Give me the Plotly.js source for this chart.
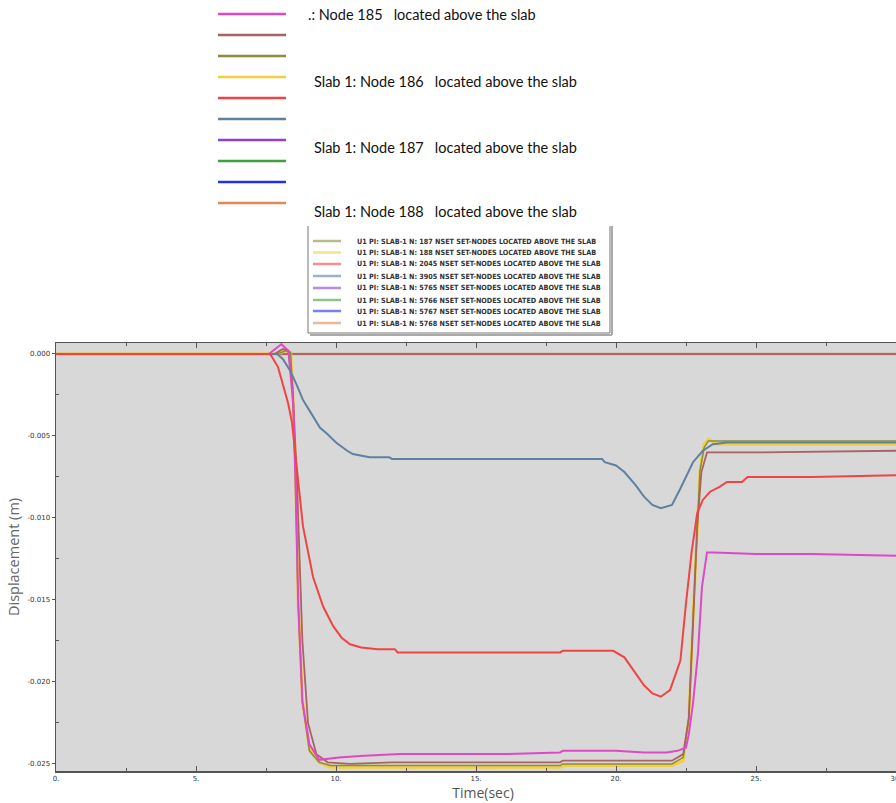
<!DOCTYPE html>
<html>
<head>
<meta charset="utf-8">
<script src="https://cdn.plot.ly/plotly-3.0.1.min.js"></script>
<style>
html,body{margin:0;padding:0;background:#fff;overflow:hidden;}
#chart{width:910px;height:803px;}
</style>
</head>
<body>
<div id="chart"></div>
<script>
// ---------- data ----------
const nodeIds = ['185','186','187','188','2045','3905','5765','5766','5767','5768'];
const seriesColors = ['#e048c8','#a86464','#8c8c3c','#f0d040','#f04444','#6080a0','#9040d0','#40a040','#2030f0','#e08858'];
const topLegendTexts = ['.: Node 185\u00a0\u00a0 located above the slab',
  'Slab 1: Node 186\u00a0\u00a0 located above the slab',
  'Slab 1: Node 187\u00a0\u00a0 located above the slab',
  'Slab 1: Node 188\u00a0\u00a0 located above the slab'];

const xTickVals = [0,5,10,15,20,25,30];
const xTickText = ['0.','5.','10.','15.','20.','25.','30.'];
const yTickVals = [0,-0.005,-0.010,-0.015,-0.020,-0.025];
const yTickText = ['0.000','-0.005','-0.010','-0.015','-0.020','-0.025'];

const t185 = [0,7.6,7.9,8.05,8.3,8.47,8.55,8.65,8.8,9.05,9.4,10.1,11,12.3,14,16,18,18.1,19,20,21,21.8,22.2,22.5,22.6,22.75,22.93,23.07,23.25,23.5,25,27,30];
const y185 = [0,0,0.0004,0.0006,0.0002,-0.003,-0.0075,-0.0152,-0.0212,-0.0238,-0.02475,-0.0246,-0.0245,-0.0244,-0.0244,-0.0244,-0.0243,-0.0242,-0.0242,-0.0242,-0.0243,-0.0243,-0.0242,-0.0240,-0.0232,-0.0213,-0.0182,-0.0142,-0.0121,-0.0121,-0.0122,-0.0122,-0.0123];

const t186 = [0,7.8,8.1,8.3,8.45,8.6,8.8,9.0,9.3,9.7,10.5,12,15,18,18.1,20,22,22.4,22.6,22.75,22.9,23.05,23.25,23.6,25,30];
const y186 = [0,0,0.0003,0.0002,-0.002,-0.0075,-0.0175,-0.0225,-0.0244,-0.0249,-0.025,-0.0249,-0.0249,-0.0249,-0.0248,-0.0248,-0.0248,-0.0244,-0.0222,-0.0165,-0.0105,-0.0072,-0.006,-0.006,-0.006,-0.0059];

const t187 = [0,7.9,8.2,8.38,8.47,8.55,8.65,8.8,9.05,9.4,9.8,12,18,18.1,22,22.4,22.6,22.75,22.9,23.0,23.15,23.3,23.6,25,30];
const y187 = [0,0,0.0002,0.0001,-0.003,-0.0075,-0.0152,-0.0212,-0.0242,-0.0249,-0.0251,-0.0251,-0.0251,-0.025,-0.025,-0.0246,-0.0222,-0.0162,-0.0101,-0.0071,-0.0057,-0.0053,-0.0053,-0.0053,-0.0053];

const t188 = [0,7.9,8.2,8.38,8.47,8.55,8.65,8.8,9.05,9.4,9.8,12,18,18.1,22,22.4,22.6,22.75,22.9,23.0,23.15,23.3,23.6,25,30];
const y188 = [0,0,0.0002,0.0001,-0.0028,-0.0069,-0.015,-0.0211,-0.0241,-0.0249,-0.0252,-0.0252,-0.0252,-0.0251,-0.0251,-0.0248,-0.0223,-0.0162,-0.0101,-0.0071,-0.0055,-0.0052,-0.0055,-0.0055,-0.0055];

const t2045 = [0,7.65,7.93,8.1,8.29,8.43,8.6,8.82,9.18,9.54,9.9,10.2,10.5,10.9,11.5,12.1,12.2,15,18,18.1,19.9,20.3,20.7,21.0,21.3,21.6,21.93,22.3,22.5,22.7,22.9,23.1,23.36,23.7,23.96,24.5,24.7,27,30];
const y2045 = [0,0,-0.0008,-0.0018,-0.003,-0.0042,-0.0069,-0.0105,-0.0136,-0.0154,-0.0166,-0.0173,-0.0177,-0.0179,-0.018,-0.018,-0.0182,-0.0182,-0.0182,-0.0181,-0.0181,-0.0185,-0.0195,-0.0202,-0.0207,-0.0209,-0.0205,-0.0187,-0.0152,-0.0121,-0.0097,-0.0089,-0.0084,-0.0081,-0.0078,-0.0078,-0.0075,-0.0075,-0.0074];

const t3905 = [0,7.9,8.1,8.36,8.6,8.82,9.07,9.43,9.7,10.0,10.4,10.6,11.2,11.9,12.0,15,18,19.5,19.6,20.0,20.3,20.7,21.0,21.3,21.6,22.0,22.3,22.75,23.1,23.46,23.96,27,30];
const y3905 = [0,0,-0.0003,-0.001,-0.0019,-0.0028,-0.0035,-0.0045,-0.0049,-0.0054,-0.0059,-0.0061,-0.0063,-0.0063,-0.0064,-0.0064,-0.0064,-0.0064,-0.0066,-0.0068,-0.0072,-0.0080,-0.0087,-0.0092,-0.0094,-0.0092,-0.0082,-0.0066,-0.0059,-0.0055,-0.0054,-0.0054,-0.0054];

const tZero = [0,30.5];
const y5765 = [0,0];
const y5766 = [0,0];
const y5767 = [0,0];
const y5768 = [0,0];

// ---------- geometry helpers (pixel -> paper) ----------
const W = 910;
const PL = 56, PR = 910, PT = 343, PB = 771;
const px = x => (x - PL) / (PR - PL);
const py = y => (PB - y) / (PB - PT);

function tr(x, y, idx, w, op) {
  return {x: x, y: y, type: 'scatter', mode: 'lines', name: nodeIds[idx],
    line: {color: seriesColors[idx], width: w || 2}, opacity: op || 1, hoverinfo: 'skip'};
}

const data = [
  tr(tZero, y5765, 6, 2),
  tr(tZero, y5766, 7, 2),
  tr(tZero, y5767, 8, 2),
  tr(tZero, y5768, 9, 2.4, 0.8),
  tr(tZero, y5768, 1, 1.5),
  tr(t188, y188, 3, 3),
  tr(t187, y187, 2, 1.5),
  tr(t186, y186, 1, 1.8),
  tr(t185, y185, 0, 2),
  tr(t3905, y3905, 5, 2),
  tr(t2045, y2045, 4, 2)
];

// ---------- custom legends ----------
const shapes = [];
const annotations = [];
const topLineY = [14,35,56,77,98,119,140,161,182,203];
const topTextY = [15,81,147,211];
const topTextX = [306,312,312,312];
nodeIds.forEach((n, i) => {
  shapes.push({type:'line', xref:'paper', yref:'paper', x0:px(218), x1:px(286), y0:py(topLineY[i]), y1:py(topLineY[i]),
    line:{color:seriesColors[i], width:2.5}});
});
topLegendTexts.forEach((s, i) => {
  annotations.push({xref:'paper', yref:'paper', x:px(topTextX[i]), y:py(topTextY[i]), xanchor:'left', yanchor:'middle',
    text:s, showarrow:false, font:{family:'Lato, "Noto Sans", sans-serif', size:14.5, color:'#111'}});
});

// boxed legend (top part hidden)
const boxL = 308, boxR = 610, boxB = 333, boxT = 226;
shapes.push({type:'line', xref:'paper', yref:'paper', x0:px(boxL+2), x1:px(boxR+2), y0:py(boxB+2), y1:py(boxB+2), line:{color:'#aaaaaa', width:2}});
shapes.push({type:'line', xref:'paper', yref:'paper', x0:px(boxR+2), x1:px(boxR+2), y0:py(boxT), y1:py(boxB+2), line:{color:'#aaaaaa', width:2}});
shapes.push({type:'line', xref:'paper', yref:'paper', x0:px(boxL), x1:px(boxR), y0:py(boxB), y1:py(boxB), line:{color:'#777', width:1}});
shapes.push({type:'line', xref:'paper', yref:'paper', x0:px(boxL), x1:px(boxL), y0:py(boxT), y1:py(boxB), line:{color:'#777', width:1}});
shapes.push({type:'line', xref:'paper', yref:'paper', x0:px(boxR), x1:px(boxR), y0:py(boxT), y1:py(boxB), line:{color:'#777', width:1}});
const boxRowY = [229.5,241,252.5,264,276,288,300,311,323];
for (let k = 1; k < nodeIds.length; k++) {
  const yy = boxRowY[k-1];
  if (k === 1) continue; // row hidden behind the upper legend
  shapes.push({type:'line', xref:'paper', yref:'paper', x0:px(313), x1:px(341), y0:py(yy), y1:py(yy),
    line:{color:seriesColors[k], width:2.5}, opacity:0.6});
  annotations.push({xref:'paper', yref:'paper', x:px(355), y:py(yy), xanchor:'left', yanchor:'middle', showarrow:false,
    text:'<b>U1 PI: SLAB-1 N: ' + nodeIds[k] + ' NSET SET-NODES LOCATED ABOVE THE SLAB</b>',
    font:{family:'"DejaVu Sans Condensed", "DejaVu Sans", sans-serif', size:7.2, color:'#333'}});
}

const layout = {
  width: W, height: 803,
  margin: {l: PL, r: W - PR, t: PT, b: 803 - PB, pad: 0},
  paper_bgcolor: '#ffffff',
  plot_bgcolor: '#d8d8d8',
  showlegend: false,
  xaxis: {
    range: [0, 30.5], tickvals: xTickVals, ticktext: xTickText,
    ticks: 'inside', ticklen: 5, tickwidth: 1, tickcolor: '#555',
    minor: {tickvals: [2.5,7.5,12.5,17.5,22.5,27.5], ticks: 'inside', ticklen: 3, tickcolor: '#555'},
    showline: true, linecolor: '#555', linewidth: 1.5, mirror: 'ticks',
    showgrid: false, zeroline: false,
    tickfont: {family: '"DejaVu Sans", sans-serif', size: 7, color: '#333'},
    title: {text: 'Time(sec)', font: {family: '"Open Sans", "Noto Sans", sans-serif', size: 14, color: '#555'}, standoff: 3}
  },
  yaxis: {
    range: [-0.02543, 0.00067], tickvals: yTickVals, ticktext: yTickText,
    ticks: 'outside', ticklen: 3, tickwidth: 1, tickcolor: '#555',
    minor: {tickvals: [-0.0025,-0.0075,-0.0125,-0.0175,-0.0225], ticks: 'inside', ticklen: 3, tickcolor: '#555'},
    showline: true, linecolor: '#555', linewidth: 1.5, mirror: true,
    showgrid: false, zeroline: false,
    tickfont: {family: '"DejaVu Sans", sans-serif', size: 7, color: '#333'},
    title: {text: 'Displacement (m)', font: {family: '"Open Sans", "Noto Sans", sans-serif', size: 14.5, color: '#666'}, standoff: 4}
  },
  shapes: shapes,
  annotations: annotations
};

Plotly.newPlot('chart', data, layout, {displayModeBar: false, staticPlot: true});
</script>
</body>
</html>
